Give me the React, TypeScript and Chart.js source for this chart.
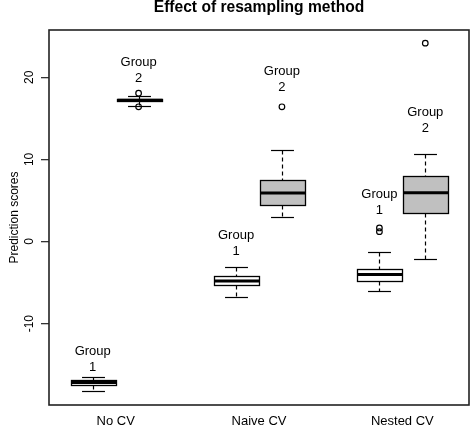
import React, { useEffect, useRef } from 'react';
import { Chart, registerables } from 'chart.js';

Chart.register(...registerables);

// ---- data ----
const categories = ['No CV', 'Naive CV', 'Nested CV'];
const groupNames = ['1', '2'];
const yTicks = [-10, 0, 10, 20];

// Group 1 (white boxes)
const g1Low = [-18.15, -6.7, -6.0];
const g1Q1 = [-17.5, -5.35, -4.75];
const g1Median = [-17.15, -4.8, -4.0];
const g1Q3 = [-16.85, -4.25, -3.35];
const g1High = [-16.55, -3.15, -1.3];
const g1Outliers: number[][] = [[], [], [1.2, 1.65]];
const g1LabelY = [-14.3, -0.2, 4.8];

// Group 2 (grey boxes)
const g2Low = [16.55, 3.0, -2.15];
const g2Q1 = [17.05, 4.45, 3.45];
const g2Median = [17.2, 5.9, 5.95];
const g2Q3 = [17.35, 7.5, 8.0];
const g2High = [17.72, 11.15, 10.65];
const g2Outliers: number[][] = [[18.05, 16.4], [16.4], [24.15]];
const g2LabelY = [20.8, 19.7, 14.8];

// ---- layout constants ----
const GROUP_OFFSET = [-0.16, 0.16];
const BOX_WIDTH = 0.32;
const FONT = '"Liberation Sans", Arial, Helvetica, sans-serif';
const FILLS = ['#ffffff', '#c0c0c0'];

const groups = [
  { low: g1Low, q1: g1Q1, med: g1Median, q3: g1Q3, high: g1High, out: g1Outliers, labelY: g1LabelY },
  { low: g2Low, q1: g2Q1, med: g2Median, q3: g2Q3, high: g2High, out: g2Outliers, labelY: g2LabelY },
];

const outlierPoints = groups.flatMap((g, gi) =>
  g.out.flatMap((vals, i) => vals.map((v) => ({ x: i + 1 + GROUP_OFFSET[gi], y: v })))
);

const snap = (v: number) => Math.round(v) + 0.5;

const boxPlugin = {
  id: 'boxplots',
  beforeDatasetsDraw(chart: any) {
    const { ctx, scales } = chart;
    const x = scales.x;
    const y = scales.y;
    ctx.save();
    ctx.strokeStyle = '#000';
    const line = (x1: number, y1: number, x2: number, y2: number) => {
      ctx.beginPath();
      ctx.moveTo(x1, y1);
      ctx.lineTo(x2, y2);
      ctx.stroke();
    };
    groups.forEach((g, gi) => {
      g.low.forEach((_v, i) => {
        const cx = snap(x.getPixelForValue(i + 1 + GROUP_OFFSET[gi]));
        const half = (x.getPixelForValue(BOX_WIDTH) - x.getPixelForValue(0)) / 2;
        const yLow = snap(y.getPixelForValue(g.low[i]));
        const yQ1 = snap(y.getPixelForValue(g.q1[i]));
        const yMed = y.getPixelForValue(g.med[i]);
        const yQ3 = snap(y.getPixelForValue(g.q3[i]));
        const yHigh = snap(y.getPixelForValue(g.high[i]));
        const left = Math.round(cx - half) + 0.5;
        const right = Math.round(cx + half) + 0.5;
        // whiskers
        ctx.lineWidth = 1.2;
        ctx.setLineDash([4, 3]);
        line(cx, yHigh, cx, yQ3);
        line(cx, yQ1, cx, yLow);
        ctx.setLineDash([]);
        // staples
        line(cx - half / 2, yHigh, cx + half / 2, yHigh);
        line(cx - half / 2, yLow, cx + half / 2, yLow);
        // box
        ctx.fillStyle = FILLS[gi];
        ctx.fillRect(left, yQ3, right - left, yQ1 - yQ3);
        ctx.lineWidth = 1.3;
        ctx.strokeRect(left, yQ3, right - left, yQ1 - yQ3);
        // median
        ctx.lineWidth = 3;
        ctx.lineCap = 'butt';
        line(left, yMed, right, yMed);
      });
    });
    ctx.restore();
  },
  afterDatasetsDraw(chart: any) {
    const { ctx, scales, chartArea } = chart;
    const x = scales.x;
    const y = scales.y;
    ctx.save();
    // group labels
    ctx.fillStyle = '#000';
    ctx.font = `13px ${FONT}`;
    ctx.textAlign = 'center';
    ctx.textBaseline = 'middle';
    groups.forEach((g, gi) => {
      g.labelY.forEach((ly, i) => {
        const cx = x.getPixelForValue(i + 1 + GROUP_OFFSET[gi]);
        const cy = y.getPixelForValue(ly);
        ctx.fillText('Group', cx, cy - 8);
        ctx.fillText(groupNames[gi], cx, cy + 8);
      });
    });
    // plot frame
    ctx.strokeStyle = '#222';
    ctx.lineWidth = 1.6;
    ctx.strokeRect(chartArea.left, chartArea.top, chartArea.right - chartArea.left, chartArea.bottom - chartArea.top);
    ctx.restore();
  },
};

export default function App() {
  const ref = useRef<HTMLCanvasElement>(null);
  useEffect(() => {
    if (!ref.current) return;
    const chart = new Chart(ref.current, {
      type: 'scatter',
      data: {
        datasets: [
          {
            data: outlierPoints,
            pointRadius: 2.8,
            pointBorderWidth: 1.2,
            pointBackgroundColor: 'rgba(0,0,0,0)',
            pointBorderColor: '#000',
            showLine: false,
          },
        ],
      },
      options: {
        animation: false,
        responsive: false,
        events: [],
        layout: { padding: { left: 0, right: 3, top: 0, bottom: 0 }, autoPadding: false },
        plugins: {
          legend: { display: false },
          tooltip: { enabled: false },
          title: {
            display: true,
            fullSize: false,
            text: 'Effect of resampling method',
            color: '#000',
            font: { family: FONT, size: 15.6, weight: 'bold', lineHeight: 1 },
            padding: { top: 0, bottom: 14.4 },
          },
        },
        scales: {
          x: {
            type: 'linear',
            min: 0.535,
            max: 3.465,
            afterBuildTicks: (s: any) => {
              s.ticks = categories.map((_c, i) => ({ value: i + 1 }));
            },
            afterFit: (s: any) => {
              s.height = 22;
            },
            ticks: {
              callback: (_v: any, idx: number) => categories[idx],
              font: { family: FONT, size: 13 },
              color: '#000',
              padding: 8.5,
              autoSkip: false,
              maxRotation: 0,
              minRotation: 0,
            },
            grid: { display: false, drawTicks: false, tickLength: 0 },
            border: { display: false },
          },
          y: {
            type: 'linear',
            min: -19.9,
            max: 25.75,
            afterBuildTicks: (s: any) => {
              s.ticks = yTicks.map((v) => ({ value: v }));
            },
            afterFit: (s: any) => {
              s.width = 49;
            },
            ticks: {
              minRotation: 90,
              maxRotation: 90,
              crossAlign: 'center',
              padding: 3,
              color: '#000',
              font: { family: FONT, size: 12 },
            },
            grid: { drawOnChartArea: false, drawTicks: true, tickLength: 8, color: '#333', lineWidth: 1.3 },
            border: { display: false },
            title: {
              display: true,
              text: 'Prediction scores',
              color: '#000',
              font: { family: FONT, size: 12 },
              padding: { top: 7, bottom: 0 },
            },
          },
        },
      } as any,
      plugins: [boxPlugin],
    });
    return () => chart.destroy();
  }, []);
  return (
    <div style={{ position: 'fixed', left: 0, top: 0, width: 472, height: 427, background: '#fff' }}>
      <canvas ref={ref} width={472} height={427} style={{ display: 'block' }} />
    </div>
  );
}
